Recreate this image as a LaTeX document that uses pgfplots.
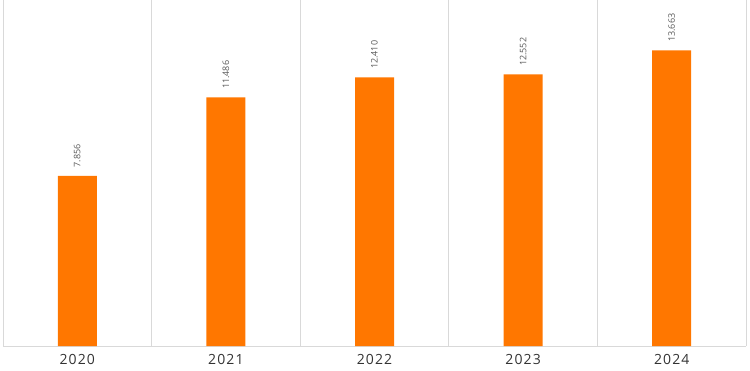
\documentclass[border=0pt]{standalone}
\usepackage{pgfplots}
\pgfplotsset{compat=1.18}
\usepackage{fontspec}
\setmainfont{Open Sans}
\newfontfamily\spaced[LetterSpace=8]{Open Sans}
\definecolor{barorange}{RGB}{255,119,0}
\definecolor{gridgray}{RGB}{217,217,217}
\definecolor{labgray}{RGB}{89,89,89}
\begin{document}
\begin{tikzpicture}
\path[use as bounding box] (0,0) rectangle (750bp,371bp);
\begin{axis}[
  at={(3bp,25bp)}, anchor=south west,
  scale only axis, width=743bp, height=346bp,
  xmin=-0.5, xmax=4.5, ymin=0, ymax=15989,
  axis x line*=bottom, axis y line=none,
  x axis line style={draw=gridgray, line width=0.8bp, -},
  xtick={0,1,2,3,4},
  xticklabels={2020,2021,2022,2023,2024},
  minor xtick={-0.5,0.5,1.5,2.5,3.5,4.5},
  xminorgrids, minor grid style={draw=gridgray, line width=0.8bp},
  major tick length=0pt, minor tick length=0pt,
  xticklabel style={font=\spaced\fontsize{14bp}{16bp}\selectfont, text=black!80, yshift=-7bp, inner sep=1bp},
  ybar, bar width=39bp,
  nodes near coords,
  nodes near coords style={rotate=90, anchor=west, font=\fontsize{9bp}{10bp}\selectfont, text=labgray, xshift=5bp,
    /pgf/number format/.cd, 1000 sep={.}, fixed, assume math mode=true},
  clip=false,
]
\addplot[fill=barorange, draw=none] coordinates {(0,7856) (1,11486) (2,12410) (3,12552) (4,13663)};
\end{axis}
\end{tikzpicture}
\end{document}
